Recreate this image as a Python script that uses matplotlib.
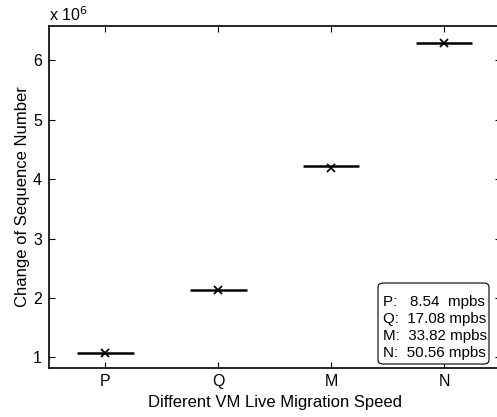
import matplotlib
matplotlib.use("Agg")
import matplotlib.pyplot as plt
from matplotlib.patches import FancyBboxPatch
from matplotlib.ticker import FuncFormatter, FixedLocator

plt.rcParams['font.family'] = ['Liberation Sans', 'DejaVu Sans']

categories = ['P', 'Q', 'M', 'N']
median_values = [1.08e6, 2.14e6, 4.22e6, 6.30e6]
mean_values = [1.08e6, 2.14e6, 4.195e6, 6.30e6]
speed_labels = ['P:   8.54  mpbs', 'Q:  17.08 mpbs', 'M:  33.82 mpbs', 'N:  50.56 mpbs']
y_ticks = [1e6, 2e6, 3e6, 4e6, 5e6, 6e6]

W, H = 497, 417
fig = plt.figure(figsize=(W / 100, H / 100), dpi=100)
ax = fig.add_axes([49 / W, (H - 367.5) / H, (500.5 - 49) / W, (367.5 - 26) / H])

positions = range(1, len(categories) + 1)
half = 0.25
for x, med, mn in zip(positions, median_values, mean_values):
    ax.plot([x - half, x + half], [med, med], color='black', lw=1.8, solid_capstyle='butt')
    ax.plot(x, mn, marker='x', color='black', ms=6, mew=1.3)

ax.set_xlim(0.5, 4.5)
ax.set_ylim(0.83e6, 6.58e6)
ax.set_xticks(list(positions))
ax.set_xticklabels(categories)
ax.yaxis.set_major_locator(FixedLocator(y_ticks))
ax.yaxis.set_major_formatter(FuncFormatter(lambda v, p: f'{v / 1e6:g}'))

ax.tick_params(direction='in', length=4, width=0.8, top=True, right=True,
               labelsize=11.5, pad=5, colors='black')
for s in ax.spines.values():
    s.set_linewidth(1.2)

ax.set_xlabel('Different VM Live Migration Speed', fontsize=12, labelpad=4)
ax.set_ylabel('Change of Sequence Number', fontsize=12, labelpad=2)

fig.text(49 / W, (H - 15) / H, r'x 10$^{6}$', fontsize=11.5, ha='left', va='center')

# annotation box with the migration speeds
box = FancyBboxPatch((0.7287, 0.0102), 0.2458, 0.2372, transform=ax.transAxes,
                     boxstyle='round,pad=0,rounding_size=0.012', fc='white', ec='black',
                     lw=0.8, zorder=3, mutation_aspect=1.0)
ax.add_patch(box)
ax.text(0.7398, 0.212, '\n'.join(speed_labels), transform=ax.transAxes,
        ha='left', va='top', fontsize=10.9, linespacing=1.27, zorder=4)

fig.savefig('out.png', dpi=100)
